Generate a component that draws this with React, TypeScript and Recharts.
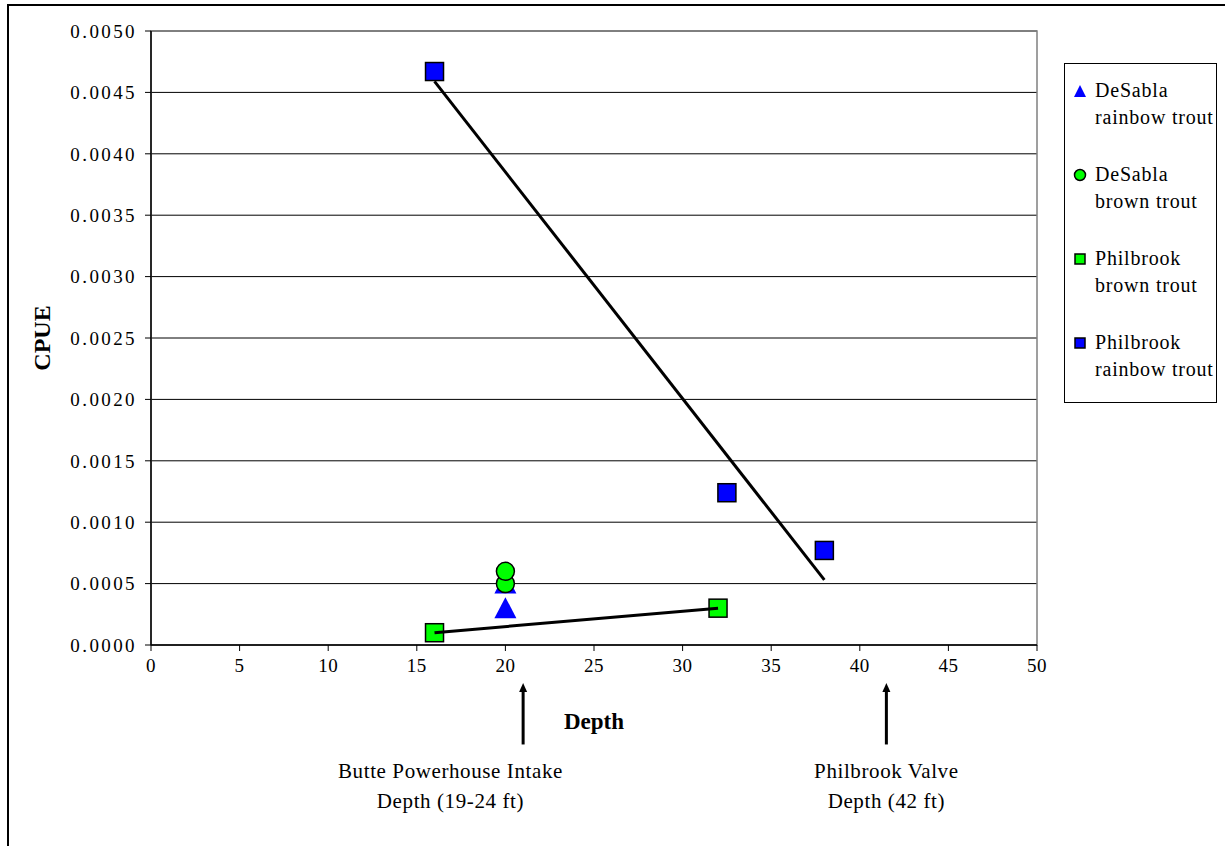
import React from 'react';
import {
  ScatterChart, Scatter, XAxis, YAxis, CartesianGrid, Legend,
  ReferenceArea, ReferenceLine, ReferenceDot,
} from 'recharts';

// ---- data ----
const desablaRainbowDepth = [20, 20];
const desablaRainbowCpue = [0.0005, 0.0003];

const desablaBrownDepth = [20, 20];
const desablaBrownCpue = [0.0005, 0.0006];

const philbrookBrownDepth = [16, 32];
const philbrookBrownCpue = [0.0001, 0.0003];

const philbrookRainbowDepth = [16, 32.5, 38];
const philbrookRainbowCpue = [0.00467, 0.00124, 0.00077];

const rainbowTrendDepth = [16, 38];
const rainbowTrendCpue = [0.00459, 0.00053];

const xTicks = [0, 5, 10, 15, 20, 25, 30, 35, 40, 45, 50];
const yTicks = [0, 0.0005, 0.001, 0.0015, 0.002, 0.0025, 0.003, 0.0035, 0.004, 0.0045, 0.005];

const legendLabels = [
  ['DeSabla', 'rainbow trout'],
  ['DeSabla', 'brown trout'],
  ['Philbrook', 'brown trout'],
  ['Philbrook', 'rainbow trout'],
];

const annotations = [
  { arrowX: 21, textX: 16.9, lines: ['Butte Powerhouse Intake', 'Depth (19-24 ft)'] },
  { arrowX: 41.5, textX: 41.5, lines: ['Philbrook Valve', 'Depth (42 ft)'] },
];
const arrowTipY = -0.00031;
const arrowBaseY = -0.00081;
const annotationTextY = -0.00103;

const zip = (xs: number[], ys: number[]) => xs.map((x, i) => ({ x, y: ys[i] }));

const FONT = '"Liberation Serif", "Times New Roman", serif';
const BLUE = '#0000FF';
const GREEN = '#00FF00';

const Triangle = (p: any) => (
  <polygon
    points={`${p.cx},${p.cy - 11} ${p.cx - 11},${p.cy + 10} ${p.cx + 11},${p.cy + 10}`}
    fill={BLUE}
  />
);
const Circle = (p: any) => (
  <circle cx={p.cx} cy={p.cy} r={9} fill={GREEN} stroke="#000" strokeWidth={1.5} />
);
const GreenSquare = (p: any) => (
  <rect x={p.cx - 9} y={p.cy - 9} width={18} height={18} fill={GREEN} stroke="#000" strokeWidth={1.5} />
);
const BlueSquare = (p: any) => (
  <rect x={p.cx - 9} y={p.cy - 9} width={18} height={18} fill={BLUE} stroke="#000" strokeWidth={1.5} />
);
const NoShape = () => <g />;

const legendMarkers = [
  <svg width={14} height={14}><polygon points="7,1 1,13 13,13" fill={BLUE} /></svg>,
  <svg width={14} height={14}><circle cx={7} cy={7} r={5.5} fill={GREEN} stroke="#000" strokeWidth={1.5} /></svg>,
  <svg width={14} height={14}><rect x={2} y={2} width={10} height={10} fill={GREEN} stroke="#000" strokeWidth={1.5} /></svg>,
  <svg width={14} height={14}><rect x={2} y={2} width={10} height={10} fill={BLUE} stroke="#000" strokeWidth={1.5} /></svg>,
];

const LegendBox = () => (
  <div
    style={{
      width: 153, height: 340, boxSizing: 'border-box', border: '1px solid #000',
      background: '#fff', paddingTop: 13, fontFamily: FONT, fontSize: 20,
      letterSpacing: 0.8, lineHeight: '27px', color: '#000',
    }}
  >
    {legendLabels.map((lines, i) => (
      <div key={i} style={{ display: 'flex', marginBottom: 30 }}>
        <div style={{ width: 30, display: 'flex', justifyContent: 'center', alignItems: 'center', height: 27 }}>
          {legendMarkers[i]}
        </div>
        <div>
          {lines.map((l, j) => <div key={j} style={{ whiteSpace: 'nowrap' }}>{l}</div>)}
        </div>
      </div>
    ))}
  </div>
);

const ArrowShape = (p: any) => {
  const { x1, y1, x2, y2 } = p;
  const tipY = Math.min(y1, y2);
  const baseY = Math.max(y1, y2);
  return (
    <g>
      <line x1={x1} y1={baseY} x2={x1} y2={tipY + 6} stroke="#000" strokeWidth={3} />
      <polygon points={`${x1},${tipY} ${x1 - 4},${tipY + 9} ${x1 + 4},${tipY + 9}`} fill="#000" />
    </g>
  );
};

const CpueLabel = (props: any) => {
  const vb = props.viewBox || {};
  const x = vb.x + 42;
  const y = vb.y + vb.height / 2;
  return (
    <text x={x} y={y} transform={`rotate(-90 ${x} ${y})`} textAnchor="middle" dominantBaseline="central"
      fontFamily={FONT} fontWeight="bold" fontSize={24} fill="#000">CPUE</text>
  );
};

const DepthLabel = (props: any) => {
  const vb = props.viewBox || {};
  const x = vb.x + vb.width / 2;
  const y = vb.y + 76;
  return (
    <text x={x} y={y} textAnchor="middle" dominantBaseline="central"
      fontFamily={FONT} fontWeight="bold" fontSize={23} fill="#000">Depth</text>
  );
};

const tickStyle = { fontFamily: FONT, fontSize: 19, fill: '#000' };

export default function App() {
  return (
    <div style={{ position: 'absolute', left: 0, top: 0, width: 1225, height: 846, overflow: 'hidden', background: '#fff' }}>
      <div style={{ position: 'absolute', left: 7, top: 4, width: 1400, height: 1000, border: '2px solid #000' }} />
      <div style={{ position: 'absolute', left: 0, top: 0 }}>
        <ScatterChart width={1225} height={846} margin={{ top: 31, right: 188, bottom: 141, left: 0 }}>
          <CartesianGrid horizontal vertical={false} stroke="#000" strokeOpacity={1} />
          <ReferenceArea x1={0} x2={50} y1={0} y2={0.005} fill="none" stroke="#808080" strokeWidth={1.5} ifOverflow="visible" />
          <XAxis
            type="number" dataKey="x" domain={[0, 50]} ticks={xTicks} interval={0}
            height={60} tickSize={6} tickMargin={8}
            axisLine={{ stroke: '#000', strokeWidth: 1.5 }} tickLine={{ stroke: '#000' }}
            tick={{ ...tickStyle, letterSpacing: 0.5 }} allowDataOverflow
            label={{ content: DepthLabel }}
          />
          <YAxis
            type="number" dataKey="y" domain={[0, 0.005]} ticks={yTicks} interval={0}
            width={151} tickSize={6} tickMargin={8}
            tickFormatter={(v: number) => v.toFixed(4)}
            axisLine={{ stroke: '#000', strokeWidth: 1.5 }} tickLine={{ stroke: '#000' }}
            tick={{ ...tickStyle, letterSpacing: 2.4 }} allowDataOverflow
            label={{ content: CpueLabel }}
          />
          <Legend
            layout="horizontal" verticalAlign="middle" align="center"
            wrapperStyle={{ top: 63, left: 1064, width: 153, height: 340 }}
            content={() => <LegendBox />}
          />
          <Scatter name="trend" data={zip(rainbowTrendDepth, rainbowTrendCpue)} line={{ stroke: '#000', strokeWidth: 3 }}
            shape={NoShape} isAnimationActive={false} legendType="none" />
          <Scatter name="DeSabla rainbow trout" data={zip(desablaRainbowDepth, desablaRainbowCpue)} shape={Triangle} isAnimationActive={false} />
          <Scatter name="DeSabla brown trout" data={zip(desablaBrownDepth, desablaBrownCpue)} shape={Circle} isAnimationActive={false} />
          <Scatter name="Philbrook brown trout" data={zip(philbrookBrownDepth, philbrookBrownCpue)} shape={GreenSquare} isAnimationActive={false} />
          <Scatter name="brown line" data={zip(philbrookBrownDepth, philbrookBrownCpue)} line={{ stroke: '#000', strokeWidth: 3 }}
            shape={NoShape} isAnimationActive={false} legendType="none" />
          <Scatter name="Philbrook rainbow trout" data={zip(philbrookRainbowDepth, philbrookRainbowCpue)} shape={BlueSquare} isAnimationActive={false} />
          {annotations.map((a, i) => (
            <ReferenceLine key={`arrow${i}`} ifOverflow="visible"
              segment={[{ x: a.arrowX, y: arrowBaseY }, { x: a.arrowX, y: arrowTipY }]}
              shape={ArrowShape} />
          ))}
          {annotations.map((a, i) => (
            <ReferenceDot key={`txt${i}`} x={a.textX} y={annotationTextY} ifOverflow="visible" r={1}
              shape={(p: any) => (
                <text x={p.cx} y={p.cy} textAnchor="middle" dominantBaseline="central"
                  fontFamily={FONT} fontSize={21} fill="#000" letterSpacing={0.6}>
                  <tspan x={p.cx} dy={0}>{a.lines[0]}</tspan>
                  <tspan x={p.cx} dy={30}>{a.lines[1]}</tspan>
                </text>
              )} />
          ))}
        </ScatterChart>
      </div>
    </div>
  );
}
